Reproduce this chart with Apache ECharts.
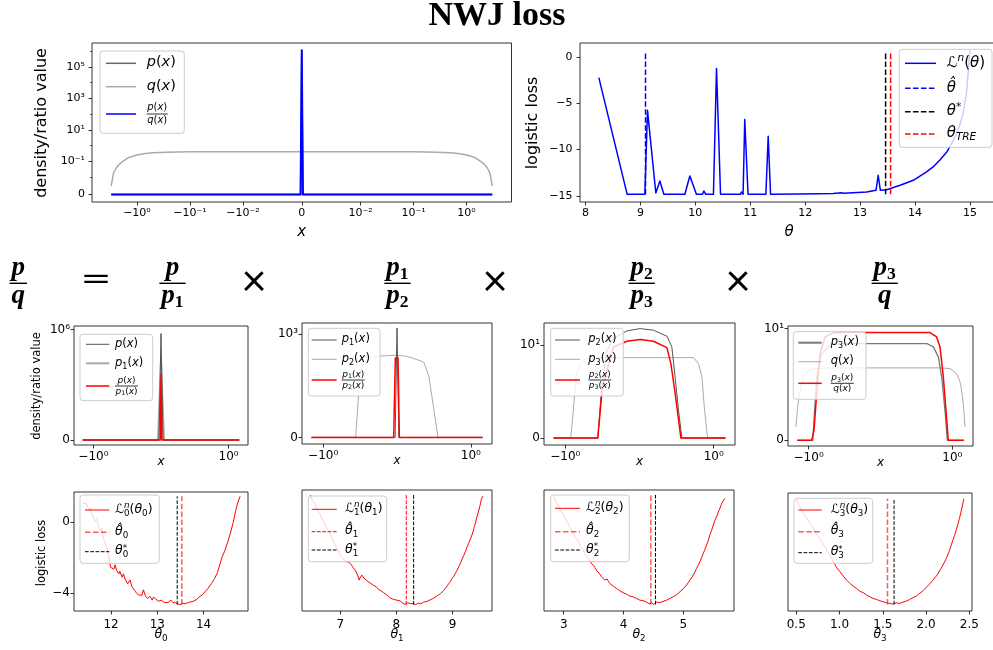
<!DOCTYPE html>
<html><head><meta charset="utf-8">
<script src="https://cdn.jsdelivr.net/npm/echarts@6/dist/echarts.min.js"></script>
<style>html,body{margin:0;padding:0;background:#fff;}#chart{width:993px;height:650px;}</style>
</head><body><div id="chart"></div>
<script>
// ======================= DATA =======================
// --- Top-left panel: densities / ratio on symlog axes ---
const tlQx = [-3.06,-2.9,-2.77,-2.5,-2.2,-1.93,-1.6,-1.34,-1.0,-0.75,-0.5,-0.27,-0.1,0,0.1,0.27,0.5,0.75,1.0,1.34,1.6,1.93,2.2,2.5,2.77,2.9,3.06];
const tlQy = [0.0048,0.009,0.018,0.035,0.06,0.09,0.14,0.19,0.25,0.30,0.35,0.38,0.40,0.407,0.40,0.38,0.35,0.30,0.25,0.19,0.14,0.09,0.06,0.035,0.018,0.009,0.0048];
const tlPx = [-3.06,-0.0002,0,0.0002,3.06];
const tlPy = [0,0,1130000,0,0];
const tlRx = [-3.06,-0.0002,0,0.0002,3.06];
const tlRy = [0,0,1130000,0,0];
const tlXTicks = [-1,-0.1,-0.01,0,0.01,0.1,1];
const tlXLabels = ['−10⁰','−10⁻¹','−10⁻²','0','10⁻²','10⁻¹','10⁰'];
const tlYTicks = [0,0.1,10,1000,100000];
const tlYLabels = ['0','10⁻¹','10¹','10³','10⁵'];
const tlYMinor = [0.01,1,100,10000,1000000];

// --- Top-right panel: logistic loss vs theta ---
const trTheta = [8.243,8.759,9.081,9.129,9.281,9.354,9.427,9.81,9.90,10.02,10.13,10.155,10.19,10.33,10.386,10.459,10.82,10.84,10.87,10.90,10.96,11.285,11.327,11.37,11.90,12.51,12.66,12.70,13.12,13.29,13.33,13.37,13.48,13.73,13.97,14.21,14.33,14.45,14.58,14.70,14.76,14.82,14.88,14.94,15.0];
const trLoss = [-2.23,-14.82,-14.82,-5.76,-14.68,-13.38,-14.82,-14.82,-12.84,-14.82,-14.82,-14.46,-14.82,-14.82,-1.26,-14.82,-14.82,-14.57,-14.82,-6.76,-14.82,-14.82,-8.56,-14.82,-14.80,-14.74,-14.66,-14.70,-14.57,-14.39,-12.77,-14.39,-14.32,-13.85,-13.31,-12.41,-11.87,-11.15,-10.25,-8.99,-8.27,-7.3,-6.0,-3.8,0.72];
const trThetaHat = 9.093, trThetaStar = 13.465, trThetaTRE = 13.556;
const trVLo = -14.82, trVHi = 0.36;
const trXTicks = [8,9,10,11,12,13,14,15];
const trYTicks = [0,-5,-10,-15];

// --- Middle row (symlog x, linthresh 1) ---
const m1X = [-1.5,-0.03,0,0.03,1.5];      const m1P = [0,0,964000,0,0];
const m1X1 = [-1.5,-0.045,0,0.045,1.5];   const m1P1 = [0,0,720000,0,0];
const m1XR = [-1.5,-0.012,0,0.012,1.5];   const m1R = [0,0,590000,0,0];

const m2X1 = [-1.5,-0.025,0,0.025,1.5];   const m2P1 = [0,0,1058,0,0];
const m2X2 = [-1.5,-0.56,-0.50,-0.455,-0.32,-0.137,0,0.137,0.273,0.364,0.432,0.50,0.555,1.5];
const m2P2 = [0,0,623,719,784,790,794,784,752,726,590,268,0,0];
const m2XR = [-1.5,-0.045,-0.023,0.014,0.032,1.5]; const m2R = [0,0,768,768,0,0];

const m3X2 = [-1.5,-0.562,-0.508,-0.44,-0.35,-0.17,0.01,0.19,0.37,0.436,0.48,0.526,0.571,1.5];
const m3P2 = [0,0,5.68,9.46,10.72,11.55,11.8,11.62,10.97,9.82,6.58,2.99,0,0];
const m3X3 = [-1.5,-0.927,-0.891,-0.855,-0.80,-0.711,-0.531,0.729,0.796,0.841,0.877,0.918,1.5];
const m3P3 = [0,0,3.0,6.6,8.0,8.56,8.67,8.67,8.0,6.6,3.0,0,0];
const m3XR = [-1.5,-0.562,-0.508,-0.463,-0.351,-0.171,0.009,0.189,0.369,0.423,0.481,0.558,1.5];
const m3R = [0,0,4.78,6.58,9.82,10.43,10.61,10.43,9.75,8.02,4.78,0,0];

const m4Xq = [-1.567,-1.493,-1.393,-1.208,-1.009,-0.888,-0.749,0.828,0.967,1.164,1.343,1.476,1.567];
const m4Q = [1.19,2.69,4.18,5.67,6.27,6.42,6.48,6.48,6.42,5.97,5.07,3.28,1.19];
const m4X3 = [-1.5,-0.943,-0.925,-0.888,-0.818,-0.703,-0.563,0.643,0.735,0.805,0.851,0.897,0.930,1.5];
const m4P3 = [0,0,1.79,5.67,7.76,8.51,8.66,8.66,8.36,7.46,5.67,2.69,0,0];
const m4XR = [-1.5,-0.958,-0.925,-0.888,-0.842,-0.772,-0.656,-0.563,0.689,0.781,0.828,0.874,0.911,0.943,1.5];
const m4R = [0,0,0.9,4.18,7.76,9.25,9.61,9.64,9.64,9.25,8.36,5.67,2.69,0,0];

const midXTicks = [-1,1];
const midXLabels = ['−10⁰','10⁰'];

// --- Bottom row: per-factor logistic losses ---
const b1Theta = [11.39,11.42,11.47,11.52,11.55,11.59,11.62,11.66,11.69,11.73,11.76,11.80,11.83,11.88,11.91,11.95,11.99,12.02,12.06,12.09,12.12,12.17,12.19,12.24,12.27,12.31,12.36,12.41,12.45,12.51,12.56,12.61,12.67,12.70,12.74,12.79,12.84,12.89,12.92,12.97,13.03,13.09,13.14,13.19,13.25,13.29,13.34,13.39,13.44,13.49,13.55,13.60,13.65,13.71,13.78,13.86,13.91,13.97,14.03,14.09,14.17,14.24,14.30,14.35,14.40,14.46,14.52,14.58,14.64,14.69,14.74,14.79];
const b1Loss = [1.07,0.98,1.03,0.66,0.79,0.41,0.51,0.04,0.17,-0.24,-0.47,-0.34,-0.85,-1.22,-1.46,-1.84,-2.54,-2.46,-2.65,-2.40,-2.72,-2.91,-2.76,-3.10,-2.91,-3.25,-3.47,-3.25,-3.62,-3.85,-4.02,-4.11,-4.11,-3.81,-4.13,-4.30,-4.17,-4.39,-4.21,-4.34,-4.45,-4.39,-4.49,-4.54,-4.51,-4.38,-4.54,-4.53,-4.60,-4.64,-4.56,-4.60,-4.54,-4.49,-4.45,-4.34,-4.19,-4.11,-3.92,-3.74,-3.46,-3.17,-2.84,-2.40,-1.97,-1.60,-1.15,-0.62,-0.02,0.60,1.11,1.45];
const b1Hat = 13.53, b1Star = 13.43, b1VLo = -4.64, b1VHi = 1.45;

const b2Theta = [6.466,6.49,6.513,6.535,6.555,6.575,6.596,6.615,6.632,6.652,6.674,6.695,6.715,6.74,6.763,6.787,6.810,6.83,6.852,6.872,6.893,6.918,6.941,6.965,6.988,7.01,7.030,7.05,7.071,7.09,7.107,7.118,7.131,7.155,7.178,7.20,7.226,7.245,7.267,7.29,7.309,7.325,7.338,7.352,7.368,7.385,7.404,7.415,7.427,7.445,7.463,7.485,7.504,7.525,7.546,7.57,7.593,7.617,7.641,7.66,7.682,7.703,7.724,7.748,7.772,7.795,7.819,7.84,7.861,7.882,7.902,7.926,7.950,7.98,8.009,8.04,8.068,8.092,8.116,8.137,8.157,8.178,8.199,8.216,8.234,8.255,8.276,8.297,8.318,8.34,8.365,8.39,8.412,8.433,8.454,8.483,8.513,8.543,8.573,8.60,8.632,8.66,8.691,8.72,8.751,8.78,8.810,8.84,8.869,8.90,8.929,8.958,8.988,9.02,9.047,9.077,9.107,9.135,9.166,9.195,9.226,9.255,9.285,9.315,9.344,9.365,9.386,9.41,9.433,9.457,9.481,9.495,9.510,9.525,9.540];
const b2Loss = [1.54,1.30,1.22,1.12,0.98,0.90,0.69,0.66,0.51,0.38,0.17,0.12,-0.02,-0.22,-0.34,-0.42,-0.62,-0.70,-0.90,-1.00,-1.18,-1.28,-1.46,-1.58,-1.78,-1.84,-1.97,-2.05,-2.08,-2.18,-2.22,-2.17,-2.27,-2.24,-2.35,-2.40,-2.54,-2.53,-2.69,-2.78,-2.97,-3.05,-3.25,-3.12,-3.10,-2.97,-2.93,-3.08,-3.17,-3.13,-3.25,-3.34,-3.36,-3.33,-3.44,-3.52,-3.55,-3.53,-3.62,-3.72,-3.79,-3.75,-3.85,-3.93,-3.96,-3.95,-4.06,-4.14,-4.17,-4.16,-4.28,-4.36,-4.34,-4.32,-4.38,-4.46,-4.43,-4.50,-4.56,-4.55,-4.62,-4.57,-4.53,-4.60,-4.62,-4.58,-4.64,-4.57,-4.56,-4.63,-4.60,-4.55,-4.54,-4.58,-4.53,-4.49,-4.47,-4.45,-4.38,-4.36,-4.28,-4.27,-4.19,-4.15,-4.06,-4.02,-3.91,-3.84,-3.72,-3.62,-3.46,-3.34,-3.17,-3.04,-2.87,-2.71,-2.50,-2.32,-2.08,-1.88,-1.65,-1.40,-1.18,-0.95,-0.71,-0.50,-0.24,0.02,0.32,0.58,0.88,1.05,1.30,1.38,1.48];
const b2Hat = 8.175, b2Star = 8.306, b2VLo = -4.64, b2VHi = 1.54;

const b3Theta = [2.821,2.845,2.866,2.885,2.905,2.925,2.944,2.967,2.989,3.01,3.034,3.056,3.078,3.10,3.123,3.145,3.168,3.19,3.212,3.235,3.257,3.28,3.302,3.324,3.346,3.368,3.391,3.413,3.436,3.458,3.480,3.50,3.520,3.548,3.575,3.603,3.631,3.66,3.687,3.706,3.726,3.748,3.771,3.80,3.827,3.855,3.883,3.91,3.939,3.966,3.994,4.022,4.050,4.078,4.106,4.134,4.162,4.19,4.218,4.246,4.274,4.30,4.330,4.358,4.385,4.408,4.430,4.45,4.469,4.488,4.508,4.53,4.553,4.58,4.609,4.637,4.665,4.693,4.721,4.75,4.777,4.805,4.832,4.86,4.888,4.916,4.944,4.972,5.000,5.028,5.056,5.084,5.112,5.14,5.168,5.196,5.223,5.25,5.279,5.307,5.335,5.363,5.391,5.42,5.447,5.475,5.503,5.53,5.559,5.587,5.615,5.637,5.659,5.678,5.698];
const b3Loss = [1.54,1.36,1.26,1.05,0.98,0.82,0.73,0.55,0.47,0.36,0.17,0.05,-0.09,-0.28,-0.39,-0.48,-0.62,-0.80,-0.90,-1.00,-1.18,-1.35,-1.46,-1.55,-1.71,-1.85,-1.93,-2.02,-2.16,-2.30,-2.35,-2.42,-2.54,-2.70,-2.78,-2.90,-3.06,-3.15,-3.25,-3.17,-3.19,-3.32,-3.44,-3.48,-3.59,-3.63,-3.72,-3.80,-3.85,-3.89,-3.96,-4.03,-4.04,-4.11,-4.15,-4.14,-4.19,-4.27,-4.28,-4.33,-4.38,-4.44,-4.41,-4.47,-4.49,-4.54,-4.58,-4.50,-4.53,-4.63,-4.62,-4.54,-4.49,-4.55,-4.51,-4.47,-4.45,-4.43,-4.38,-4.35,-4.28,-4.25,-4.19,-4.15,-4.08,-4.00,-3.91,-3.85,-3.74,-3.65,-3.53,-3.40,-3.25,-3.13,-2.97,-2.80,-2.59,-2.43,-2.22,-2.00,-1.75,-1.53,-1.28,-1.02,-0.71,-0.45,-0.15,0.10,0.32,0.58,0.79,0.99,1.16,1.26,1.35];
const b3Hat = 4.458, b3Star = 4.536, b3VLo = -4.62, b3VHi = 1.54;

const b4Theta = [0.500,0.513,0.527,0.546,0.565,0.584,0.603,0.622,0.642,0.661,0.680,0.70,0.718,0.738,0.757,0.776,0.795,0.814,0.833,0.852,0.872,0.891,0.910,0.925,0.941,0.954,0.967,0.986,1.006,1.025,1.044,1.063,1.082,1.10,1.121,1.14,1.159,1.178,1.197,1.216,1.236,1.255,1.274,1.293,1.312,1.331,1.351,1.37,1.389,1.408,1.427,1.446,1.466,1.485,1.504,1.523,1.542,1.561,1.580,1.60,1.619,1.638,1.657,1.676,1.695,1.715,1.734,1.753,1.772,1.791,1.810,1.83,1.849,1.868,1.887,1.906,1.925,1.945,1.964,1.983,2.002,2.021,2.040,2.06,2.079,2.098,2.117,2.136,2.155,2.174,2.193,2.212,2.232,2.251,2.270,2.289,2.308,2.327,2.347,2.366,2.385,2.40,2.416,2.426,2.435];
const b4Loss = [1.35,1.16,1.07,0.84,0.73,0.50,0.41,0.23,0.13,-0.05,-0.21,-0.33,-0.53,-0.63,-0.81,-0.91,-1.09,-1.19,-1.37,-1.51,-1.71,-1.83,-2.03,-2.14,-2.31,-2.38,-2.54,-2.62,-2.78,-2.86,-3.02,-3.10,-3.25,-3.31,-3.44,-3.49,-3.59,-3.63,-3.72,-3.82,-3.87,-3.90,-3.96,-4.05,-4.08,-4.12,-4.19,-4.25,-4.28,-4.30,-4.34,-4.40,-4.41,-4.44,-4.47,-4.52,-4.53,-4.51,-4.56,-4.62,-4.60,-4.54,-4.53,-4.59,-4.56,-4.50,-4.49,-4.47,-4.43,-4.40,-4.34,-4.30,-4.23,-4.20,-4.15,-4.08,-4.00,-3.94,-3.85,-3.77,-3.66,-3.58,-3.47,-3.38,-3.25,-3.15,-3.02,-2.90,-2.72,-2.58,-2.40,-2.24,-2.03,-1.82,-1.56,-1.30,-1.00,-0.74,-0.43,-0.12,0.23,0.55,0.88,1.10,1.35];
const b4Hat = 1.554, b4Star = 1.630, b4VLo = -4.62, b4VHi = 1.35;

const b1XTicks = [12,13,14];
const b1YTicks = [0,-4];
const b2XTicks = [7,8,9];
const b3XTicks = [3,4,5];
const b4XTicks = [0.5,1.0,1.5,2.0,2.5];

// ======================= HELPERS =======================
const FONT = 'DejaVu Sans';
const SERIF = 'Liberation Serif';
const ADJ = 1 / (1 - 1 / 10);   // matplotlib symlog linscale adjustment
function sl(v, lt) { const a = Math.abs(v); if (a <= lt) return v / lt * ADJ; return Math.sign(v) * (ADJ + Math.log10(a / lt)); }
const tTop = v => sl(v, 0.01);
const tMid = v => sl(v, 1);
const minus = v => (v < 0 ? '−' + Math.abs(v) : String(v));

// Layout of the ten axes boxes [left, top, width, height]
const GRIDS = [
  [92, 43, 419.5, 159],
  [580, 43, 419, 159],
  [74, 326, 174, 119],
  [302, 323, 190, 121],
  [544, 323, 191, 122],
  [788, 326, 185, 120],
  [74, 492, 174, 119],
  [302, 490, 190, 121],
  [544, 490, 190, 121],
  [788, 493, 184, 118]
];

function labFn(ticks, labels) {
  return function (v) {
    for (let i = 0; i < ticks.length; i++) if (Math.abs(ticks[i] - v) < 1e-6 * (1 + Math.abs(v))) return labels[i];
    return '';
  };
}
function mkAxis(dim, gi, min, max, ticks, labels, fs, margin) {
  const has = ticks && ticks.length;
  return {
    type: 'value', gridIndex: gi, min: min, max: max, position: dim === 'x' ? 'bottom' : 'left',
    axisLine: { show: false, onZero: false },
    splitLine: { show: false }, minorTick: { show: false }, minorSplitLine: { show: false },
    axisTick: has ? { show: true, customValues: ticks, length: 3.5, inside: false, lineStyle: { color: '#000', width: 0.8 } } : { show: false },
    axisLabel: has ? { show: true, customValues: ticks, formatter: labFn(ticks, labels), color: '#000', fontFamily: FONT, fontSize: fs, margin: margin } : { show: false }
  };
}
function minorAxis(dim, gi, min, max, vals) {
  return {
    type: 'value', gridIndex: gi, min: min, max: max, position: dim === 'x' ? 'bottom' : 'left',
    axisLine: { show: false, onZero: false }, splitLine: { show: false }, axisLabel: { show: false },
    axisTick: { show: true, customValues: vals, length: 2, lineStyle: { color: '#000', width: 0.6 } }
  };
}

const xAxes = [], yAxes = [];
xAxes.push(mkAxis('x', 0, -3.96, 3.96, tlXTicks.map(tTop), tlXLabels, 11, 6));
yAxes.push(mkAxis('y', 0, -0.47, 9.62, tlYTicks.map(tTop), tlYLabels, 11, 7));
xAxes.push(mkAxis('x', 1, 7.9, 15.53, trXTicks, trXTicks.map(String), 11, 6));
yAxes.push(mkAxis('y', 1, -15.65, 1.5, trYTicks, trYTicks.map(minus), 11, 7.5));
const midT = midXTicks.map(tMid);
xAxes.push(mkAxis('x', 2, -1.43, 1.43, midT, midXLabels, 12, 6));
yAxes.push(mkAxis('y', 2, -45000, 1032000, [0, 1e6], ['0', '10⁶'], 12, 4));
xAxes.push(mkAxis('x', 3, -1.43, 1.43, midT, midXLabels, 12, 6));
yAxes.push(mkAxis('y', 3, -64, 1106, [0, 1000], ['0', '10³'], 12, 4));
xAxes.push(mkAxis('x', 4, -1.43, 1.43, midT, midXLabels, 12, 6));
yAxes.push(mkAxis('y', 4, -0.75, 12.4, [0, 10], ['0', '10¹'], 12, 4));
xAxes.push(mkAxis('x', 5, -1.43, 1.43, midT, midXLabels, 12, 6));
yAxes.push(mkAxis('y', 5, -0.51, 10.23, [0, 10], ['0', '10¹'], 12, 4));
xAxes.push(mkAxis('x', 6, 11.2, 14.96, b1XTicks, b1XTicks.map(String), 12, 7.5));
yAxes.push(mkAxis('y', 6, -5.0, 1.69, b1YTicks, b1YTicks.map(minus), 12, 4));
xAxes.push(mkAxis('x', 7, 6.32, 9.70, b2XTicks, b2XTicks.map(String), 12, 7.5));
yAxes.push(mkAxis('y', 7, -4.99, 1.82, [], [], 12, 4));
xAxes.push(mkAxis('x', 8, 2.67, 5.85, b3XTicks, b3XTicks.map(String), 12, 7.5));
yAxes.push(mkAxis('y', 8, -4.99, 1.82, [], [], 12, 4));
xAxes.push(mkAxis('x', 9, 0.405, 2.53, b4XTicks, b4XTicks.map(v => v.toFixed(1)), 12, 7.5));
yAxes.push(mkAxis('y', 9, -4.99, 1.67, [], [], 12, 4));
// minor ticks of the symlog y axis (top-left)
yAxes.push(minorAxis('y', 0, -0.47, 9.62, tlYMinor.map(tTop)));

const series = [];
function addLine(gi, xs, ys, color, width, tx, ty, dash) {
  series.push({
    type: 'line', xAxisIndex: gi, yAxisIndex: gi, symbol: 'none', showSymbol: false, silent: true, animation: false,
    data: xs.map((x, i) => [tx ? tx(x) : x, ty ? ty(ys[i]) : ys[i]]),
    lineStyle: { color: color, width: width, type: dash || 'solid', join: 'round', cap: 'butt' }
  });
}
const DK = '#555555', LG = '#aaaaaa', RED = '#ff0000', BLUE = '#0000ff';
const D15 = [5.55, 2.4], D10 = [3.7, 1.6];

// top-left
addLine(0, tlQx, tlQy, LG, 1.5, tTop, tTop);
addLine(0, tlPx, tlPy, '#666666', 1.5, tTop, tTop);
addLine(0, tlRx, tlRy, BLUE, 2, tTop, tTop);
// top-right
addLine(1, trTheta, trLoss, BLUE, 1.5);
addLine(1, [trThetaHat, trThetaHat], [trVLo, trVHi], BLUE, 1.5, null, null, D15);
addLine(1, [trThetaStar, trThetaStar], [trVLo, trVHi], '#000', 1.5, null, null, D15);
addLine(1, [trThetaTRE, trThetaTRE], [trVLo, trVHi], RED, 1.5, null, null, D15);
// middle
addLine(2, m1X1, m1P1, LG, 2, tMid); addLine(2, m1X, m1P, DK, 1, tMid); addLine(2, m1XR, m1R, RED, 1.5, tMid);
addLine(3, m2X2, m2P2, LG, 1, tMid); addLine(3, m2X1, m2P1, DK, 1, tMid); addLine(3, m2XR, m2R, RED, 1.5, tMid);
addLine(4, m3X3, m3P3, LG, 1, tMid); addLine(4, m3X2, m3P2, DK, 1, tMid); addLine(4, m3XR, m3R, RED, 1.5, tMid);
addLine(5, m4Xq, m4Q, LG, 1, tMid); addLine(5, m4X3, m4P3, '#777777', 1.3, tMid); addLine(5, m4XR, m4R, RED, 1.5, tMid);
// bottom
const PINK = 'rgba(255,0,0,0.65)';
addLine(6, b1Theta, b1Loss, RED, 1);
addLine(6, [b1Hat, b1Hat], [b1VLo, b1VHi], PINK, 1.5, null, null, D15);
addLine(6, [b1Star, b1Star], [b1VLo, b1VHi], '#000', 1, null, null, D10);
addLine(7, b2Theta, b2Loss, RED, 1);
addLine(7, [b2Hat, b2Hat], [b2VLo, b2VHi], RED, 1, null, null, D10);
addLine(7, [b2Star, b2Star], [b2VLo, b2VHi], '#000', 1, null, null, D10);
addLine(8, b3Theta, b3Loss, RED, 1);
addLine(8, [b3Hat, b3Hat], [b3VLo, b3VHi], PINK, 1.5, null, null, D15);
addLine(8, [b3Star, b3Star], [b3VLo, b3VHi], '#000', 1, null, null, D10);
addLine(9, b4Theta, b4Loss, RED, 1);
addLine(9, [b4Hat, b4Hat], [b4VLo, b4VHi], PINK, 1.5, null, null, D15);
addLine(9, [b4Star, b4Star], [b4VLo, b4VHi], '#000', 1, null, null, D10);

// ---------- graphic: math text, legends, titles ----------
const G = [];
const MC = document.createElement('canvas').getContext('2d');
function fstr(st, size, fam) { return (st || 'normal') + ' ' + size + 'px "' + (fam || FONT) + '"'; }
function meas(font, t) { MC.font = font; return MC.measureText(t); }
function midOff(font, size) {
  const m = meas(font, 'x');
  if (m.fontBoundingBoxAscent != null && m.fontBoundingBoxDescent != null) return (m.fontBoundingBoxAscent - m.fontBoundingBoxDescent) / 2;
  return 0.34 * size;
}
function layout(toks, fs, fam) {
  let cur = 0, pend = 0; const out = [];
  toks.forEach(tk => {
    const size = fs * (tk.sc || 1);
    const font = fstr(tk.st, size, tk.fam || fam);
    const w = meas(font, tk.t).width;
    out.push({ tk: tk, size: size, font: font, x: cur });
    if (tk.stack) pend = Math.max(pend, w); else { cur += Math.max(w, pend); pend = 0; }
  });
  return { items: out, width: cur + pend };
}
function mtext(x, base, toks, fs, fam, align, color) {
  const L = layout(toks, fs, fam);
  const x0 = align === 'center' ? x - L.width / 2 : (align === 'right' ? x - L.width : x);
  L.items.forEach(p => {
    const yb = base + (p.tk.dy || 0) * fs;
    G.push({ type: 'text', x: x0 + p.x, y: yb - midOff(p.font, p.size), z: 101, silent: true,
      style: { text: p.tk.t, font: p.font, fill: color || '#000', align: 'left', verticalAlign: 'middle', textAlign: 'left', textVerticalAlign: 'middle' } });
  });
  return L.width;
}
function plain(x, y, text, font, rot, align, sx) {
  G.push({ type: 'text', x: x, y: y, rotation: rot || 0, scaleX: sx || 1, z: 101, silent: true,
    style: { text: text, font: font, fill: '#000', align: align || 'center', verticalAlign: 'middle', textAlign: align || 'center', textVerticalAlign: 'middle' } });
}
function hline(x1, x2, y, color, w, dash) {
  G.push({ type: 'line', z: 100, silent: true, shape: { x1: x1, y1: y, x2: x2, y2: y }, style: { stroke: color, lineWidth: w, lineDash: dash || null } });
}
const I = t => ({ t: t, st: 'italic' });
const N = t => ({ t: t });
const SB = (t, it) => ({ t: t, st: it ? 'italic' : 'normal', sc: 0.7, dy: 0.2 });
const SP = (t, it) => ({ t: t, st: it ? 'italic' : 'normal', sc: 0.7, dy: -0.4 });
const STK = o => Object.assign({}, o, { stack: true });
const PX = (f, sub) => sub ? [I(f), SB(sub), N('('), I('x'), N(')')] : [I(f), N('('), I('x'), N(')')];

function legend(box, lx, tx, fs, items) {
  G.push({ type: 'rect', z: 99, silent: true, shape: { x: box[0], y: box[1], width: box[2] - box[0], height: box[3] - box[1], r: 3 },
    style: { fill: 'rgba(255,255,255,0.8)', stroke: '#cccccc', lineWidth: 1 } });
  items.forEach(it => {
    hline(lx[0], lx[1], it.y, it.c, it.w || 1.5, it.d);
    if (it.frac) {
      const ffs = it.ffs;
      const wn = layout(it.frac[0], ffs).width, wd = layout(it.frac[1], ffs).width;
      const w = Math.max(wn, wd);
      hline(tx, tx + w + 1, it.y, '#000', 0.8);
      mtext(tx + (w + 1) / 2, it.y - 0.3 * ffs, it.frac[0], ffs, FONT, 'center');
      mtext(tx + (w + 1) / 2, it.y + 0.95 * ffs, it.frac[1], ffs, FONT, 'center');
    } else {
      mtext(tx, it.y + 0.3 * fs, it.toks, fs, FONT, 'left');
    }
  });
}

// Title
plain(497, 16.5, 'NWJ loss', 'bold 34px "' + SERIF + '"');

// Formula row  p/q = p/p1 × p1/p2 × p2/p3 × p3/q
const BI = t => ({ t: t, st: 'italic bold' });
const BS = t => ({ t: t, st: 'bold', sc: 0.65, dy: 0.12 });
function bigFrac(cx, num, den) {
  const fs = 27;
  const w = Math.max(layout(num, fs, SERIF).width, layout(den, fs, SERIF).width) + 4;
  G.push({ type: 'line', z: 100, silent: true, shape: { x1: cx - w / 2, y1: 283.3, x2: cx + w / 2, y2: 283.3 }, style: { stroke: '#000', lineWidth: 1.4 } });
  mtext(cx, 277, num, fs, SERIF, 'center');
  mtext(cx, 305, den, fs, SERIF, 'center');
}
bigFrac(18.3, [BI('p')], [BI('q')]);
bigFrac(172.5, [BI('p')], [BI('p'), BS('1')]);
bigFrac(397.5, [BI('p'), BS('1')], [BI('p'), BS('2')]);
bigFrac(641.7, [BI('p'), BS('2')], [BI('p'), BS('3')]);
bigFrac(884.7, [BI('p'), BS('3')], [BI('q')]);
plain(96, 280, '=', '400 34px "Lato"', 0, 'center', 1.6);
plain(254, 282, '×', '400 44px "Lato"');
plain(495, 282, '×', '400 44px "Lato"');
plain(738, 282, '×', '400 44px "Lato"');

// Axis names
plain(41.7, 123, 'density/ratio value', '16px "' + FONT + '"', Math.PI / 2);
plain(533, 123, 'logistic loss', '16px "' + FONT + '"', Math.PI / 2);
plain(36.7, 386, 'density/ratio value', '11.5px "' + FONT + '"', Math.PI / 2);
plain(41.7, 553, 'logistic loss', '11.5px "' + FONT + '"', Math.PI / 2);
mtext(301.7, 236.7, [I('x')], 15, FONT, 'center');
mtext(789, 237.3, [I('θ')], 15, FONT, 'center');
[[161, 466.3], [397, 465.3], [639.5, 466], [880.5, 466.7]].forEach(p => mtext(p[0], p[1], [I('x')], 12, FONT, 'center'));
[[161, '0'], [397, '1'], [639, '2'], [880, '3']].forEach(p => mtext(p[0], 639, [I('θ'), SB(p[1])], 12.5, FONT, 'center'));

// Legends
const LN = [N('ℒ'), SP('n', true), N('('), I('θ'), N(')')];
legend([100, 51, 184.3, 133.3], [106, 136], 146.7, 14.5, [
  { y: 63.3, c: '#666666', toks: PX('p') },
  { y: 86.7, c: LG, toks: PX('q') },
  { y: 114, c: BLUE, frac: [PX('p'), PX('q')], ffs: 10 }
]);
legend([899.3, 49.3, 992, 147.3], [905, 936], 946.7, 15, [
  { y: 63.3, c: BLUE, toks: LN },
  { y: 88.3, c: BLUE, d: D15, toks: [I('θ̂')] },
  { y: 111.7, c: '#000', d: D15, toks: [I('θ'), { t: '*', sc: 0.7, dy: -0.3 }] },
  { y: 134, c: RED, d: D15, toks: [I('θ'), SB('TRE', true)] }
]);
legend([80, 334.3, 152.7, 400.7], [86, 109.3], 115, 11.5, [
  { y: 344.3, c: DK, w: 1, toks: PX('p') },
  { y: 363.3, c: LG, w: 2, toks: PX('p', '1') },
  { y: 386, c: RED, frac: [PX('p'), PX('p', '1')], ffs: 9 }
]);
legend([308.3, 328.3, 380, 396], [311.7, 336.7], 341.7, 11.5, [
  { y: 340, c: DK, w: 1, toks: PX('p', '1') },
  { y: 359.3, c: LG, w: 1, toks: PX('p', '2') },
  { y: 380, c: RED, frac: [PX('p', '1'), PX('p', '2')], ffs: 9 }
]);
legend([550.7, 328.3, 623.3, 396], [555, 580], 588.3, 11.5, [
  { y: 340, c: DK, w: 1, toks: PX('p', '2') },
  { y: 359.3, c: LG, w: 1, toks: PX('p', '3') },
  { y: 380, c: RED, frac: [PX('p', '2'), PX('p', '3')], ffs: 9 }
]);
legend([793.3, 331.7, 866, 399.3], [798.3, 821.7], 830.7, 11.5, [
  { y: 342.7, c: '#777777', w: 2, toks: PX('p', '3') },
  { y: 361.7, c: LG, w: 1, toks: PX('q') },
  { y: 383.3, c: RED, frac: [PX('p', '3'), PX('q')], ffs: 9 }
]);
function lossLegend(box, lx, tx, ys, k, hatColor, hatW, hatDash) {
  legend(box, lx, tx, 12.5, [
    { y: ys[0], c: RED, w: 1, toks: [N('ℒ'), STK(SP('n', true)), SB(k), N('('), I('θ'), SB(k), N(')')] },
    { y: ys[1], c: hatColor, w: hatW, d: hatDash, toks: [I('θ̂'), SB(k)] },
    { y: ys[2], c: '#000', w: 1, d: D10, toks: [I('θ'), STK({ t: '*', sc: 0.7, dy: -0.3 }), SB(k)] }
  ]);
}
lossLegend([80, 495, 159.3, 563.3], [85, 109.3], 115, [510, 532.3, 551.7], '0', PINK, 1.5, D15);
lossLegend([308.3, 496, 386.7, 561.7], [311.7, 336.7], 345, [509.3, 531.7, 550], '1', RED, 1, D10);
lossLegend([550.7, 495, 629.3, 561.7], [555, 580], 586, [508.3, 531.7, 550], '2', PINK, 1.5, D15);
lossLegend([794, 498.3, 872.7, 563.3], [798.3, 821.7], 830.7, [510, 531.7, 552.7], '3', PINK, 1.5, D15);

const option = {
  animation: false,
  backgroundColor: '#ffffff',
  textStyle: { fontFamily: FONT },
  grid: GRIDS.map(g => ({ left: g[0], top: g[1], width: g[2], height: g[3], show: true, borderColor: '#000', borderWidth: 0.8,
    backgroundColor: 'rgba(0,0,0,0)', containLabel: false, outerBoundsMode: 'none' })),
  xAxis: xAxes,
  yAxis: yAxes,
  series: series,
  graphic: { elements: G }
};
const chart = echarts.init(document.getElementById('chart'), null, { renderer: 'canvas' });
chart.setOption(option);
</script>
</body></html>
